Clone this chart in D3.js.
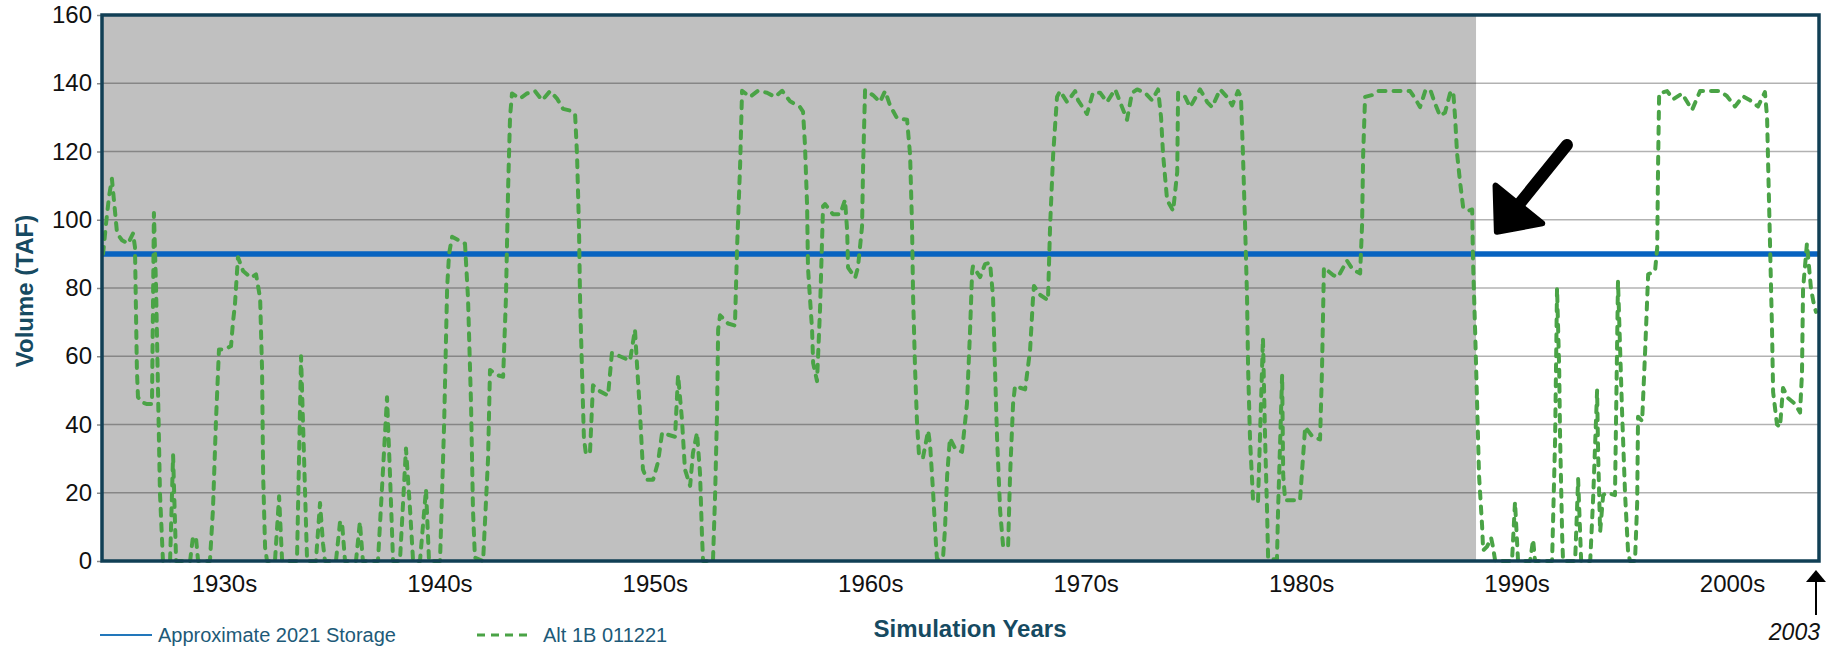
<!DOCTYPE html>
<html>
<head>
<meta charset="utf-8">
<script src="https://cdn.jsdelivr.net/npm/d3@7"></script>
<style>
  body { margin: 0; background: #fff; }
  svg { display: block; font-family: "Liberation Sans", Arial, Helvetica, sans-serif; }
</style>
</head>
<body>
<svg id="chart"></svg>
<script>
const width = 1833;
const height = 646;

// axis setup
const yTicks = [0, 20, 40, 60, 80, 100, 120, 140, 160];
const decadeYears = [1930, 1940, 1950, 1960, 1970, 1980, 1990, 2000];
const decadeLabels = ["1930s", "1940s", "1950s", "1960s", "1970s", "1980s", "1990s", "2000s"];
const simSpan = [1924.34, 2004.04];
const historicEnd = 1988.12;     // grey band = period already simulated
const storage2021 = 90;          // approximate 2021 storage, TAF
const pointerFrom = [1992.34, 121.9];
const pointerTo = [1989.0, 95.8];
const endYear = 2003.9;

// Alt 1B 011221 simulated storage (TAF)
const alt1b = [
  [1924.39, 90], [1924.53, 99], [1924.67, 107], [1924.80, 112], [1925.04, 96], [1925.27, 94],
  [1925.55, 93], [1925.78, 96], [1925.87, 92], [1925.96, 56], [1926.01, 48], [1926.20, 46.5],
  [1926.43, 46], [1926.66, 46], [1926.75, 102], [1926.85, 80], [1926.94, 50], [1927.03, 20],
  [1927.17, 0], [1927.50, 0], [1927.64, 31], [1927.78, 0], [1928.43, 0], [1928.56, 7],
  [1928.70, 7], [1928.80, 0], [1929.35, 0], [1929.49, 15], [1929.63, 41], [1929.77, 62],
  [1930.05, 62], [1930.33, 63], [1930.42, 70], [1930.51, 75], [1930.65, 89], [1930.89, 85],
  [1931.26, 83], [1931.49, 84], [1931.68, 77], [1931.77, 56], [1931.82, 25], [1931.91, 4],
  [1932.00, 0], [1932.37, 0], [1932.56, 19], [1932.70, 0], [1933.39, 0], [1933.58, 60],
  [1933.72, 30], [1933.86, 0], [1934.27, 0], [1934.46, 17], [1934.60, 5], [1934.69, 0],
  [1935.20, 0], [1935.39, 11.5], [1935.48, 11.5], [1935.62, 0], [1936.13, 0], [1936.31, 11.5],
  [1936.45, 0], [1937.15, 0], [1937.57, 48], [1937.71, 25], [1937.85, 0], [1938.17, 0],
  [1938.45, 33], [1938.64, 15], [1938.78, 0], [1939.10, 0], [1939.38, 21], [1939.52, 0],
  [1940.03, 0], [1940.22, 40], [1940.36, 80], [1940.45, 90], [1940.59, 95], [1941.19, 93],
  [1941.33, 77], [1941.47, 46], [1941.56, 15], [1941.65, 1], [1942.03, 0], [1942.26, 30],
  [1942.35, 56], [1942.68, 54.5], [1942.96, 54], [1943.09, 77], [1943.19, 109], [1943.28, 130],
  [1943.37, 137], [1943.74, 135.5], [1944.07, 137], [1944.44, 137.7], [1944.77, 135], [1945.14, 137.7],
  [1945.46, 135.5], [1945.74, 132.5], [1946.06, 132], [1946.30, 131], [1946.39, 119], [1946.48, 98],
  [1946.53, 77], [1946.62, 56], [1946.71, 36], [1946.80, 31.5], [1946.99, 31.5], [1947.13, 51.5],
  [1947.46, 49.7], [1947.83, 48.5], [1948.01, 61], [1948.38, 60], [1948.85, 58.7], [1949.08, 67.8],
  [1949.17, 58], [1949.31, 43.7], [1949.45, 26.8], [1949.64, 23.8], [1949.92, 23.8], [1950.15, 29],
  [1950.34, 37.6], [1950.62, 37], [1950.94, 36.4], [1951.08, 54.5], [1951.26, 41.5], [1951.40, 26.8],
  [1951.64, 22], [1951.77, 31.6], [1951.96, 37.6], [1952.10, 25.6], [1952.19, 7.5], [1952.24, 0],
  [1952.70, 0], [1952.80, 19.5], [1952.89, 43.7], [1952.94, 67.8], [1953.03, 72], [1953.40, 69.6],
  [1953.72, 69], [1953.82, 92], [1953.96, 116], [1954.05, 137.8], [1954.42, 136], [1954.79, 137.8],
  [1955.21, 137.2], [1955.58, 136], [1955.91, 137.8], [1956.28, 134.7], [1956.74, 133], [1956.88, 131.7],
  [1956.97, 122], [1957.07, 104], [1957.11, 86], [1957.30, 67.8], [1957.35, 58], [1957.53, 52.7],
  [1957.67, 73.8], [1957.81, 104], [1957.90, 104.6], [1958.27, 101.6], [1958.60, 101.6], [1958.83, 105.8],
  [1958.93, 96.7], [1958.97, 86], [1959.30, 83], [1959.43, 86], [1959.62, 98], [1959.67, 116],
  [1959.76, 138], [1960.13, 136.5], [1960.45, 134.5], [1960.69, 137.7], [1960.92, 133.5], [1961.24, 129.8],
  [1961.71, 129.3], [1961.85, 119], [1961.94, 98.4], [1961.99, 77.5], [1962.08, 56.5], [1962.17, 40.8],
  [1962.27, 30.4], [1962.45, 30.4], [1962.69, 38.2], [1962.78, 34], [1962.92, 20], [1963.06, 4],
  [1963.10, 0.5], [1963.38, 1], [1963.47, 9.4], [1963.57, 25], [1963.70, 36], [1963.94, 33],
  [1964.26, 32], [1964.49, 46], [1964.63, 67], [1964.73, 84.8], [1964.77, 86.4], [1965.10, 83.2],
  [1965.33, 87], [1965.56, 87.4], [1965.70, 77.5], [1965.79, 56.5], [1965.89, 35.6], [1966.03, 14.7],
  [1966.17, 4.2], [1966.40, 4.2], [1966.49, 25], [1966.63, 46], [1966.72, 51.3], [1966.95, 50.8],
  [1967.19, 50.3], [1967.42, 61.8], [1967.56, 77.5], [1967.60, 80.6], [1967.88, 78], [1968.25, 76.4],
  [1968.35, 98.4], [1968.49, 119], [1968.67, 136], [1968.81, 137.7], [1969.14, 134.5], [1969.51, 137.7],
  [1969.65, 135], [1970.06, 131], [1970.34, 137.2], [1970.67, 137.2], [1970.99, 134.5], [1971.37, 138.2],
  [1971.69, 133], [1971.92, 129.3], [1972.15, 137.2], [1972.39, 138.2], [1972.76, 137.2], [1973.08, 135],
  [1973.36, 138.2], [1973.50, 130], [1973.59, 119.4], [1973.78, 105.8], [1974.06, 102.6], [1974.25, 114],
  [1974.29, 137.2], [1974.62, 136], [1974.85, 133], [1975.31, 138.2], [1975.64, 134.5], [1975.87, 133],
  [1976.24, 138.2], [1976.56, 136], [1976.80, 133.5], [1977.07, 137.7], [1977.21, 136], [1977.30, 119.4],
  [1977.40, 98.4], [1977.49, 77.5], [1977.54, 56.5], [1977.63, 35.6], [1977.77, 17.8], [1978.00, 17.3],
  [1978.23, 65.4], [1978.33, 35.6], [1978.42, 14.7], [1978.47, 0.5], [1978.88, 0.5], [1978.93, 14.7],
  [1979.12, 54.5], [1979.17, 25], [1979.26, 17.8], [1979.58, 17.8], [1979.95, 17.8], [1980.09, 30.4],
  [1980.19, 39.3], [1980.51, 36.6], [1980.88, 35.6], [1980.97, 56], [1981.06, 86], [1981.48, 83.8],
  [1981.71, 83.2], [1982.13, 88], [1982.41, 85.3], [1982.74, 84.3], [1982.83, 98.4], [1982.88, 119],
  [1982.97, 136], [1983.34, 136.6], [1983.57, 137.7], [1984.22, 137.7], [1984.59, 137.7], [1985.06, 137.7],
  [1985.29, 135.6], [1985.52, 133], [1985.76, 137.7], [1985.99, 138.2], [1986.22, 134], [1986.45, 130.4],
  [1986.68, 131.4], [1986.92, 137.2], [1987.06, 137.7], [1987.15, 129.8], [1987.24, 119.4], [1987.38, 111],
  [1987.52, 103.7], [1987.75, 102.6], [1987.94, 103], [1987.98, 88], [1988.08, 67], [1988.17, 46],
  [1988.26, 25], [1988.40, 10.5], [1988.45, 3.1], [1988.63, 4.2], [1988.82, 6.8], [1988.91, 4],
  [1989.01, 0], [1989.79, 0], [1989.93, 17.3], [1990.07, 0], [1990.63, 0], [1990.77, 6.3],
  [1990.86, 0], [1991.65, 0], [1991.79, 35.6], [1991.88, 80], [1991.98, 56.5], [1992.02, 37],
  [1992.12, 7], [1992.16, 0], [1992.72, 0], [1992.86, 24], [1993.00, 0], [1993.42, 0],
  [1993.56, 19], [1993.74, 50], [1993.79, 31], [1993.88, 8.5], [1994.02, 19.3], [1994.20, 20],
  [1994.57, 19.3], [1994.71, 82], [1994.90, 43.5], [1995.04, 19.3], [1995.18, 2.4], [1995.27, 0],
  [1995.50, 0], [1995.60, 17], [1995.64, 42.3], [1995.83, 41], [1995.97, 61.6], [1996.11, 84],
  [1996.43, 85], [1996.53, 91.8], [1996.57, 116], [1996.62, 137], [1996.99, 137.7], [1997.27, 135.3],
  [1997.68, 137], [1998.15, 132.2], [1998.52, 137.7], [1998.98, 137.7], [1999.45, 137.7], [1999.77, 136.2],
  [2000.14, 133.2], [2000.51, 136.2], [2000.84, 135], [2001.21, 133.2], [2001.53, 137.4], [2001.63, 130],
  [2001.68, 116], [2001.77, 92], [2001.86, 67.6], [2001.91, 49.5], [2002.09, 40], [2002.23, 39.3],
  [2002.37, 50.7], [2002.61, 47.7], [2002.93, 46], [2003.16, 43.5], [2003.25, 55], [2003.30, 79.7],
  [2003.48, 93], [2003.58, 86], [2003.67, 79.7], [2003.81, 75], [2003.90, 73]
];

const margin = { top: 15, right: 14, bottom: 85, left: 102 };
const green = "#4aa346";
const blue = "#0763c0";
const teal = "#164a61";
const frame = "#113f55";

const svg = d3.select("#chart")
  .attr("width", width)
  .attr("height", height);

const x = d3.scaleLinear().domain(simSpan).range([margin.left, width - margin.right]);
const y = d3.scaleLinear().domain([0, 160]).range([height - margin.bottom, margin.top]);

// grey band for the historical part
svg.append("rect")
  .attr("x", x(simSpan[0]))
  .attr("y", y(160))
  .attr("width", x(historicEnd) - x(simSpan[0]))
  .attr("height", y(0) - y(160))
  .attr("fill", "#c0c0c0");

// gridlines
svg.append("g")
  .selectAll("line")
  .data(yTicks)
  .enter().append("line")
    .attr("x1", margin.left)
    .attr("x2", width - margin.right)
    .attr("y1", d => y(d))
    .attr("y2", d => y(d))
    .attr("stroke", "rgba(0,0,0,0.3)")
    .attr("stroke-width", 1.5);

// y axis
const yAxis = svg.append("g")
  .attr("transform", `translate(${margin.left},0)`)
  .call(d3.axisLeft(y).tickValues(yTicks).tickSize(5).tickPadding(5));
yAxis.select(".domain").remove();
yAxis.selectAll(".tick line").attr("stroke", "#888").attr("stroke-width", 1.5);
yAxis.selectAll(".tick text")
  .attr("font-size", 24)
  .attr("font-family", "'Liberation Sans', Arial, sans-serif")
  .attr("fill", "#111");

// x axis (decade labels only)
const xAxis = svg.append("g")
  .attr("transform", `translate(0,${y(0)})`)
  .call(d3.axisBottom(x).tickValues(decadeYears).tickSize(0).tickPadding(14)
    .tickFormat((d, i) => decadeLabels[i]));
xAxis.select(".domain").remove();
xAxis.selectAll(".tick text")
  .attr("font-size", 24)
  .attr("font-family", "'Liberation Sans', Arial, sans-serif")
  .attr("fill", "#111");

// 2021 storage reference
svg.append("line")
  .attr("x1", x(simSpan[0]))
  .attr("x2", x(simSpan[1]))
  .attr("y1", y(storage2021))
  .attr("y2", y(storage2021))
  .attr("stroke", blue)
  .attr("stroke-width", 5.5);

// Alt 1B series
const line = d3.line()
  .x(d => x(d[0]))
  .y(d => y(d[1]));

svg.append("path")
  .datum(alt1b)
  .attr("d", line)
  .attr("fill", "none")
  .attr("stroke", green)
  .attr("stroke-width", 4)
  .attr("stroke-dasharray", "7,8")
  .attr("stroke-linecap", "round")
  .attr("stroke-linejoin", "round");

// plot frame
svg.append("rect")
  .attr("x", x(simSpan[0]))
  .attr("y", y(160))
  .attr("width", x(simSpan[1]) - x(simSpan[0]))
  .attr("height", y(0) - y(160))
  .attr("fill", "none")
  .attr("stroke", frame)
  .attr("stroke-width", 3.5);

// axis titles
svg.append("text")
  .attr("x", 970)
  .attr("y", 637)
  .attr("text-anchor", "middle")
  .attr("font-size", 24)
  .attr("font-weight", "bold")
  .attr("fill", teal)
  .text("Simulation Years");

svg.append("text")
  .attr("transform", `translate(33,${(y(0) + y(160)) / 2 + 3}) rotate(-90)`)
  .attr("text-anchor", "middle")
  .attr("font-size", 24)
  .attr("font-weight", "bold")
  .attr("fill", teal)
  .text("Volume (TAF)");

// legend
const legend = svg.append("g");
legend.append("line")
  .attr("x1", 100).attr("x2", 152).attr("y1", 635).attr("y2", 635)
  .attr("stroke", "#2277bb").attr("stroke-width", 2);
legend.append("text")
  .attr("x", 158).attr("y", 642)
  .attr("font-size", 20).attr("fill", "#1d5a78")
  .text("Approximate 2021 Storage");
legend.append("line")
  .attr("x1", 477).attr("x2", 530).attr("y1", 635).attr("y2", 635)
  .attr("stroke", green).attr("stroke-width", 3)
  .attr("stroke-dasharray", "8,6");
legend.append("text")
  .attr("x", 543).attr("y", 642)
  .attr("font-size", 20).attr("fill", "#1d5a78")
  .text("Alt 1B 011221");

// big pointer arrow at the end of the grey band
const p0 = [x(pointerFrom[0]), y(pointerFrom[1])];
const p1 = [x(pointerTo[0]), y(pointerTo[1])];
const dx = p0[0] - p1[0], dy = p0[1] - p1[1];
const len = Math.sqrt(dx * dx + dy * dy);
const ux = dx / len, uy = dy / len;
const px = -uy, py = ux;
const headLen = 38, headHalf = 30;
const base = [p1[0] + ux * headLen, p1[1] + uy * headLen];

svg.append("line")
  .attr("x1", p0[0]).attr("y1", p0[1])
  .attr("x2", base[0] + ux * -4).attr("y2", base[1] + uy * -4)
  .attr("stroke", "#000")
  .attr("stroke-width", 12)
  .attr("stroke-linecap", "round");

svg.append("polygon")
  .attr("points", [
    [p1[0] + ux * 3, p1[1] + uy * 3],
    [base[0] + px * headHalf, base[1] + py * headHalf],
    [base[0] - px * headHalf, base[1] - py * headHalf]
  ].map(p => p.join(",")).join(" "))
  .attr("fill", "#000")
  .attr("stroke", "#000")
  .attr("stroke-width", 6)
  .attr("stroke-linejoin", "round");

// end-of-record marker
const ex = x(endYear);
svg.append("line")
  .attr("x1", ex).attr("x2", ex)
  .attr("y1", 615).attr("y2", 580)
  .attr("stroke", "#000").attr("stroke-width", 2);
svg.append("polygon")
  .attr("points", `${ex - 10},582 ${ex + 10},582 ${ex},570`)
  .attr("fill", "#000");
svg.append("text")
  .attr("x", ex + 4)
  .attr("y", 640)
  .attr("text-anchor", "end")
  .attr("font-size", 23)
  .attr("font-style", "italic")
  .attr("fill", "#111")
  .text("2003");
</script>
</body>
</html>
